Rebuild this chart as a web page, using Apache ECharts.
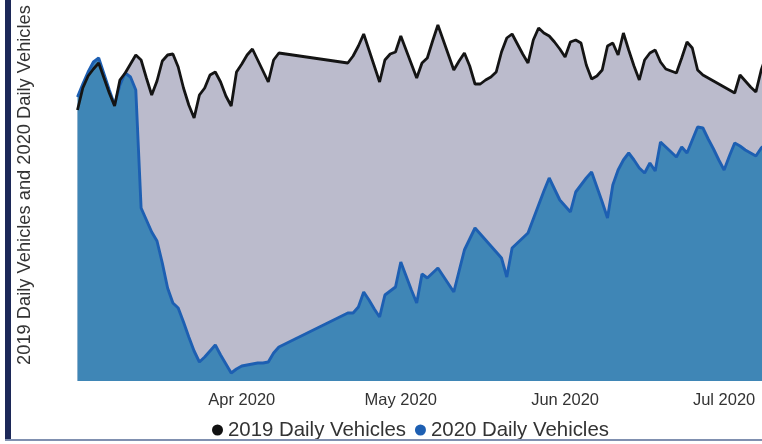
<!DOCTYPE html>
<html>
<head>
<meta charset="utf-8">
<script src="https://cdn.jsdelivr.net/npm/echarts@6/dist/echarts.min.js"></script>
<style>
html,body{margin:0;padding:0;background:#ffffff;}
#chart{width:762px;height:444px;}
</style>
</head>
<body>
<div id="chart"></div>
<script>
// Daily values from 1 Mar 2020 (day 0) onwards; null = no data that day
const startDate = '2020-03-01';
const tickDates = ['2020-04-01', '2020-05-01', '2020-06-01', '2020-07-01'];
const tickLabels = ['Apr 2020', 'May 2020', 'Jun 2020', 'Jul 2020'];

const vehicles2019 = [
  27100,29300,30500,31200,31800,30300,28800,27500,30100,30800,
  31700,32600,32100,30300,28600,30000,32000,32600,32700,31400,
  29300,27600,26300,28600,29300,30600,30900,29900,28500,27500,
  30900,31700,32600,33200,32100,31000,29900,32100,32800,null,
  null,null,null,null,null,null,null,null,null,null,
  null,31800,32500,33500,34700,33100,31500,29900,32100,32700,
  32900,34500,33100,31700,30300,31800,32300,34000,35600,34100,
  32600,31100,32000,32800,31500,29700,29700,30100,30400,30900,
  32900,34300,34700,33700,32700,31800,34100,35300,34800,34500,
  33900,33200,32400,33900,34100,33800,31600,30200,30500,31100,
  33500,33800,32600,34800,33100,31500,30100,32100,32800,33100,
  31900,31200,31000,30800,32300,33900,33300,31100,30600,30300,
  30000,29700,29400,29100,28800,30600,30000,29400,28900,31100,
  32600
];

const vehicles2020 = [
  28400,29700,30900,31900,32300,30700,29100,27600,29600,30800,
  30400,29100,17300,16100,14900,14000,11800,9300,7800,7300,
  5900,4400,3000,1900,2400,3000,3600,2600,1700,800,
  1200,1500,1600,1700,1800,1800,1900,2800,3400,null,
  null,null,null,null,null,null,null,null,null,null,
  null,6800,6800,7400,8900,8100,7200,6400,8600,9000,
  9400,11900,10500,9100,7800,10700,10300,10800,11300,10500,
  9700,8900,11000,13100,14200,15300,14700,14100,13500,12900,
  12300,10400,13300,13800,14300,14800,16200,17600,19000,20300,
  19200,18100,17500,16900,18900,19600,20300,20900,19400,17900,
  16300,19600,21100,22100,22800,22100,21300,20800,21800,21000,
  23900,23400,22900,22400,23400,22800,24100,25400,25300,24200,
  23200,22100,21100,22500,23800,23500,23100,22800,22500,23300,
  23700
];

const DAY = 86400000;
const toTs = s => Date.parse(s + 'T00:00:00Z');
const t0 = toTs(startDate);
const pairs = arr => arr.map((v, i) => [i, v]);          // x = day number since startDate
const tickDays = tickDates.map(s => Math.round((toTs(s) - t0) / DAY));

const FONT = '"Liberation Sans", Arial, sans-serif';
const chart = echarts.init(document.getElementById('chart'), null, {renderer: 'canvas'});
chart.setOption({
  animation: false,
  backgroundColor: '#ffffff',
  grid: {left: 77.5, right: 0, top: 0, bottom: 63, containLabel: false},
  legend: {
    data: ['2019 Daily Vehicles', '2020 Daily Vehicles'],
    left: 212, top: 420,
    icon: 'circle', itemWidth: 11, itemHeight: 11, itemGap: 9,
    padding: 0,
    textStyle: {fontFamily: FONT, fontSize: 20.4, color: '#333333'}
  },
  xAxis: {
    type: 'value',
    min: 0,
    max: 129.15,
    axisLine: {show: false},
    axisTick: {show: false},
    splitLine: {show: false},
    axisLabel: {
      customValues: tickDays,
      formatter: function (val) {
        const k = tickDays.indexOf(Math.round(val));
        return k >= 0 ? tickLabels[k] : '';
      },
      margin: 11,
      fontFamily: FONT, fontSize: 16.5, color: '#333333'
    }
  },
  yAxis: {
    type: 'value',
    min: 0, max: 38100,
    axisLine: {show: false},
    axisTick: {show: false},
    axisLabel: {show: false},
    splitLine: {show: false}
  },
  series: [
    {
      name: '2019 Daily Vehicles',
      type: 'line',
      data: pairs(vehicles2019),
      connectNulls: true,
      showSymbol: false,
      symbol: 'none',
      itemStyle: {color: '#111111'},
      lineStyle: {width: 0, opacity: 0},
      areaStyle: {color: '#bbbbcc', opacity: 1},
      z: 1
    },
    {
      name: '2020 Daily Vehicles',
      type: 'line',
      data: pairs(vehicles2020),
      connectNulls: true,
      showSymbol: false,
      symbol: 'none',
      itemStyle: {color: '#1d5fb2'},
      lineStyle: {width: 2.9, color: '#1d5fb2'},
      areaStyle: {color: '#3f86b6', opacity: 1},
      z: 2
    },
    {
      name: '2019 Daily Vehicles',
      type: 'line',
      data: pairs(vehicles2019),
      connectNulls: true,
      showSymbol: false,
      symbol: 'none',
      itemStyle: {color: '#111111'},
      lineStyle: {width: 2.8, color: '#141414'},
      z: 3
    }
  ],
  graphic: [
    {type: 'rect', shape: {x: 5, y: 0, width: 6, height: 440}, style: {fill: '#1c2858'}, z: 100},
    {type: 'rect', shape: {x: 5, y: 439, width: 757, height: 2}, style: {fill: '#8090b0'}, z: 100},
    {
      type: 'text', x: 25, y: 185, rotation: Math.PI / 2, z: 100,
      style: {
        text: '2019 Daily Vehicles and 2020 Daily Vehicles',
        fontFamily: FONT, fontSize: 18.3, fill: '#333333',
        align: 'center', verticalAlign: 'middle'
      }
    }
  ]
});
</script>
</body>
</html>
